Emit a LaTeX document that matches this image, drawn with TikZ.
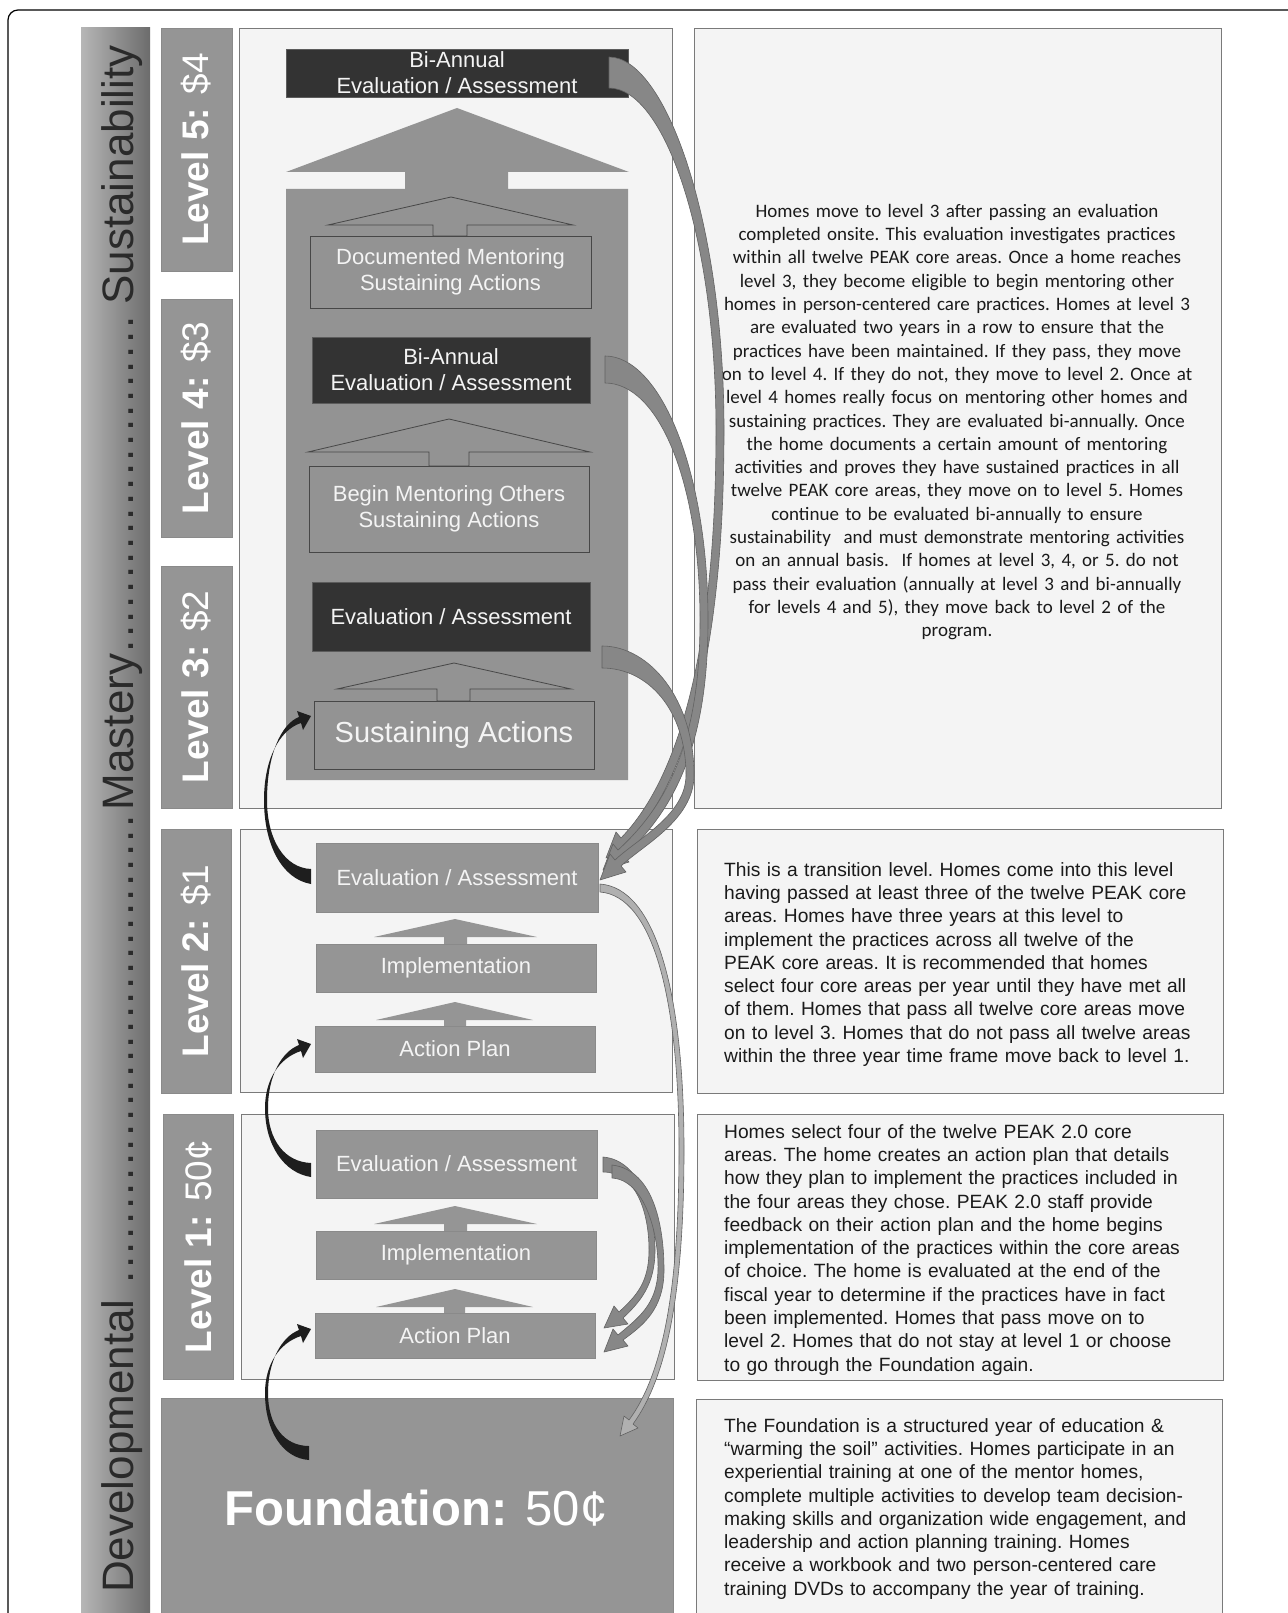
\documentclass[tikz,border=0pt]{standalone}
\usepackage{fontspec}
\setmainfont{Liberation Sans}
\newfontfamily\calfont{Carlito}
\usetikzlibrary{arrows.meta,calc,fit}
\definecolor{panelbg}{HTML}{F4F4F4}
\definecolor{panelbd}{HTML}{7A7A7A}
\definecolor{boxgray}{HTML}{959595}
\definecolor{colgray}{HTML}{939393}
\definecolor{boxbd}{HTML}{8A8A8A}
\definecolor{darkbox}{HTML}{333333}
\definecolor{darkbd}{HTML}{5C5C5C}
\definecolor{innerbd}{HTML}{474747}
\definecolor{ribbon}{HTML}{878787}
\definecolor{ribbonbd}{HTML}{626262}
\definecolor{hollowfill}{HTML}{B0B0B0}
\definecolor{swoosh}{HTML}{1E1E1E}
\definecolor{bodytext}{HTML}{1A1A1A}
\definecolor{boxtext}{HTML}{F4F4F4}
\definecolor{barL}{HTML}{B6B6B6}
\definecolor{barM}{HTML}{A0A0A0}
\definecolor{barR}{HTML}{6C6C6C}
\definecolor{bartext}{HTML}{2A2A2A}
\newcommand\bxfont{\fontsize{22}{26}\selectfont}
\newcommand\lbfont{\fontsize{37}{40}\selectfont}
\newcommand\arialbody{\fontsize{19.2}{23.3}\selectfont\frenchspacing\spaceskip=0.37em plus 0.1em minus 0.05em\relax}
\newcommand\calbody{\calfont\fontsize{19}{23.3}\selectfont\frenchspacing}
\newcommand\lvdots{\leaders\hbox to 14.7pt{\hss.\hss}\hfill}
\begin{document}
\begin{tikzpicture}[x=1pt,y=-1pt,
  panel/.style={draw=panelbd, fill=panelbg, line width=0.9pt, inner sep=0pt},
  lvl/.style={draw=boxbd, fill=boxgray, line width=0.8pt, inner sep=0pt},
  colbox/.style={draw=innerbd, fill=colgray, line width=0.8pt, inner sep=0pt},
  darkbx/.style={draw=darkbd, fill=darkbox, line width=0.8pt, inner sep=0pt},
  plainbx/.style={draw=boxbd, fill=boxgray, line width=0.8pt, inner sep=0pt},
  bxtxt/.style={inner sep=0pt, text=boxtext, align=center, font=\bxfont},
  colarrow/.style={draw=innerbd, fill=colgray, line width=0.8pt},
  smallarrow/.style={fill=boxgray},
  lbl/.style={rotate=90, text=white, font=\lbfont, inner sep=0pt},
  ribbonst/.style={fill=ribbon, draw=ribbonbd, line width=0.6pt, line join=round},
  hollowst/.style={fill=hollowfill, draw=ribbonbd, line width=0.6pt, line join=round},
  swooshst/.style={fill=swoosh},
  bodytxt/.style={inner sep=0pt, text=bodytext, anchor=north west, align=left, text width=495pt, font=\arialbody}
]
\useasboundingbox (0,0) rectangle (1287,1613);
\fill[white] (0,0) rectangle (1287,1613);
% outer frame
\draw[black, line width=1.2pt, rounded corners=10pt] (8,1620) -- (8,10) -- (1295,10);

% left gradient bar
\shade[left color=barL, middle color=barM, right color=barR] (81,28) rectangle (150,1620);
\node[rotate=90, anchor=base west, inner sep=0pt, text=bartext, font=\fontsize{44}{44}\selectfont] (stages) at (133,1593)
  {Developmental\hbox to 489pt{\ \lvdots}Mastery\hbox to 349pt{\lvdots}Sustainability};

% panels
\node[panel, fit={(239,28) (672,808)}] (p5) {};
\node[panel, fit={(240,829) (672,1092)}] (p2) {};
\node[panel, fit={(241,1114) (674,1379)}] (p1) {};
\node[panel, fit={(694,28) (1221,808)}] (tp5) {};
\node[panel, fit={(697,829) (1223,1093)}] (tp2) {};
\node[panel, fit={(697,1114) (1223,1380)}] (tp1) {};
\node[panel, fit={(696,1399) (1222,1625)}] (tp0) {};

% level labels
\node[lvl, fit={(161,28) (232,271)}] (L5) {};
\node[lvl, fit={(161,299) (232,537)}] (L4) {};
\node[lvl, fit={(161,566) (232,808)}] (L3) {};
\node[lvl, fit={(161,829) (231,1093)}] (L2) {};
\node[lvl, fit={(163,1114) (233,1379)}] (L1) {};
\node[lvl, fit={(161,1398) (673,1625)}] (fd) {};
\node[lbl] at (L5.center) {\bfseries Level 5: \mdseries\$4};
\node[lbl] at (L4.center) {\bfseries Level 4: \mdseries\$3};
\node[lbl] at (L3.center) {\bfseries Level 3: \mdseries\$2};
\node[lbl] at (L2.center) {\bfseries Level 2: \mdseries\$1};
\node[lbl] at (L1.center) {\bfseries Level 1: \mdseries 50¢};
\node[text=white, inner sep=0pt, anchor=base, font=\fontsize{49}{52}\selectfont] (fdtext) at (416,1525) {\bfseries Foundation: \mdseries 50¢};

% big column arrow
\fill[colgray] (286,780) -- (628,780) -- (628,189) -- (508,189) -- (508,172) -- (629,172) -- (457,108) -- (286,172) -- (405,172) -- (405,189) -- (286,189) -- cycle;

% column inner arrows
\draw[colarrow] (328,225) -- (451,197) -- (573,225) -- (467,225) -- (467,236) -- (433,236) -- (433,225) -- cycle;
\draw[colarrow] (308,452) -- (449,419) -- (590,452) -- (469,452) -- (469,466) -- (429,466) -- (429,452) -- cycle;
\draw[colarrow] (337,689) -- (454,663) -- (571,689) -- (470,689) -- (470,701) -- (437,701) -- (437,689) -- cycle;

% column boxes
\node[darkbx, fit={(286,49) (628,97)}] (ba5) {};
\node[colbox, fit={(310,236) (591,308)}] (dm) {};
\node[darkbx, fit={(312,337) (590,403)}] (ba4) {};
\node[colbox, fit={(309,466) (589,552)}] (bm) {};
\node[darkbx, fit={(312,582) (590,651)}] (ev3) {};
\node[colbox, fit={(314,701) (594,769)}] (sa) {};
\node[bxtxt] at (ba5.center) {Bi-Annual\\Evaluation / Assessment};
\node[bxtxt] at (dm.center) {Documented Mentoring\\Sustaining Actions};
\node[bxtxt] at (ba4.center) {Bi-Annual\\Evaluation / Assessment};
\node[bxtxt] at (bm.center) {Begin Mentoring Others\\Sustaining Actions};
\node[bxtxt] at (ev3.center) {Evaluation / Assessment};
\node[bxtxt, font=\fontsize{29}{32}\selectfont] at (sa.center) {Sustaining Actions};

% level 2
\fill[smallarrow] (374,937) -- (455,919) -- (537,937) -- (467,937) -- (467,945) -- (444,945) -- (444,937) -- cycle;
\fill[smallarrow] (376,1020) -- (455,1002) -- (533,1020) -- (466,1020) -- (466,1027) -- (444,1027) -- (444,1020) -- cycle;
\node[plainbx, fit={(316,843) (598,912)}] (ev2) {};
\node[plainbx, fit={(316,944) (596,992)}] (im2) {};
\node[plainbx, fit={(315,1026) (595,1072)}] (ap2) {};
\node[bxtxt] at (ev2.center) {Evaluation / Assessment};
\node[bxtxt] at (im2.center) {Implementation};
\node[bxtxt] at (ap2.center) {Action Plan};

% level 1
\fill[smallarrow] (374,1224) -- (455,1206) -- (537,1224) -- (467,1224) -- (467,1232) -- (444,1232) -- (444,1224) -- cycle;
\fill[smallarrow] (376,1307) -- (455,1289) -- (533,1307) -- (465,1307) -- (465,1314) -- (444,1314) -- (444,1307) -- cycle;
\node[plainbx, fit={(316,1130) (597,1198)}] (ev1) {};
\node[plainbx, fit={(316,1231) (596,1279)}] (im1) {};
\node[plainbx, fit={(315,1313) (595,1358)}] (ap1) {};
\node[bxtxt] at (ev1.center) {Evaluation / Assessment};
\node[bxtxt] at (im1.center) {Implementation};
\node[bxtxt] at (ap1.center) {Action Plan};

% text panels
\node[inner sep=0pt, anchor=north, text width=540pt, align=center, text=bodytext, font=\calbody] (txt5) at (957,204) {%
Homes move to level 3 after passing an evaluation\\
completed onsite. This evaluation investigates practices\\
within all twelve PEAK core areas. Once a home reaches\\
level 3, they become eligible to begin mentoring other\\
homes in person-centered care practices. Homes at level 3\\
are evaluated two years in a row to ensure that the\\
practices have been maintained. If they pass, they move\\
on to level 4. If they do not, they move to level 2. Once at\\
level 4 homes really focus on mentoring other homes and\\
sustaining practices. They are evaluated bi-annually. Once\\
the home documents a certain amount of mentoring\\
activities and proves they have sustained practices in all\\
twelve PEAK core areas, they move on to level 5. Homes\\
continue to be evaluated bi-annually to ensure\\
sustainability\ \ and must demonstrate mentoring activities\\
on an annual basis.\ \ If homes at level 3, 4, or 5. do not\\
pass their evaluation (annually at level 3 and bi-annually\\
for levels 4 and 5), they move back to level 2 of the\\
program.};
\node[bodytxt] (txt2) at (724,862) {%
This is a transition level. Homes come into this level\\
having passed at least three of the twelve PEAK core\\
areas. Homes have three years at this level to\\
implement the practices across all twelve of the\\
PEAK core areas. It is recommended that homes\\
select four core areas per year until they have met all\\
of them. Homes that pass all twelve core areas move\\
on to level 3. Homes that do not pass all twelve areas\\
within the three year time frame move back to level 1.};
\node[bodytxt] (txt1) at (724,1124) {%
Homes select four of the twelve PEAK 2.0 core\\
areas. The home creates an action plan that details\\
how they plan to implement the practices included in\\
the four areas they chose. PEAK 2.0 staff provide\\
feedback on their action plan and the home begins\\
implementation of the practices within the core areas\\
of choice. The home is evaluated at the end of the\\
fiscal year to determine if the practices have in fact\\
been implemented. Homes that pass move on to\\
level 2. Homes that do not stay at level 1 or choose\\
to go through the Foundation again.};
\node[bodytxt] (txt0) at (724,1418) {%
The Foundation is a structured year of education \&\\
“warming the soil” activities. Homes participate in an\\
experiential training at one of the mentor homes,\\
complete multiple activities to develop team decision-\\
making skills and organization wide engagement, and\\
leadership and action planning training. Homes\\
receive a workbook and two person-centered care\\
training DVDs to accompany the year of training.};

% black swooshes (advance to next level)
\fill[swooshst] (309,1460) .. controls (282,1458) and (265,1430) .. (265,1393) .. controls (265,1365) and (279,1343) .. (301,1336) -- (303,1343) -- (311,1329) -- (297,1324) -- (299,1330) .. controls (281,1337) and (268,1362) .. (268,1393) .. controls (268,1425) and (284,1446) .. (309,1446) -- cycle;
\fill[swooshst] (311,1177) .. controls (284,1173) and (265,1145) .. (265,1108) .. controls (265,1080) and (279,1058) .. (301,1051) -- (303,1058) -- (311,1044) -- (297,1039) -- (299,1045) .. controls (281,1052) and (268,1077) .. (268,1108) .. controls (268,1140) and (285,1162) .. (311,1163) -- cycle;
\fill[swooshst] (311,884) .. controls (282,879) and (264,845) .. (264,800) .. controls (264,760) and (279,730) .. (301,723) -- (303,730) -- (311,716) -- (297,711) -- (299,717) .. controls (281,724) and (267,755) .. (267,800) .. controls (267,840) and (285,868) .. (311,869) -- cycle;

% gray ribbons (fall back to level 2)
\path[ribbonst] (609,57) .. controls (665,57) and (724,220) .. (724,430) .. controls (724,640) and (690,780) .. (627,844) -- (632,850) -- (606,858) -- (616,832) -- (621,838) .. controls (682,775) and (716,640) .. (716,430) .. controls (716,235) and (664,88) .. (609,88) -- cycle;
\path[ribbonst] (605,356) .. controls (660,356) and (708,470) .. (708,620) .. controls (708,735) and (680,805) .. (624,856) -- (629,862) -- (603,870) -- (613,844) -- (618,850) .. controls (673,800) and (700,732) .. (700,620) .. controls (700,480) and (658,383) .. (605,383) -- cycle;
\path[ribbonst] (602,646) .. controls (650,646) and (694,700) .. (694,775) .. controls (694,820) and (643,845) .. (621,866) -- (626,872) -- (600,880) -- (610,854) -- (615,860) .. controls (637,839) and (686,815) .. (686,775) .. controls (686,710) and (648,668) .. (602,668) -- cycle;
% hollow arrow level 2 -> foundation
\path[hollowst] (600,884) .. controls (655,888) and (684,990) .. (684,1150) .. controls (684,1300) and (665,1380) .. (633,1424) -- (638,1428) -- (620,1436) -- (624,1416) -- (629,1420) .. controls (660,1378) and (679,1300) .. (679,1150) .. controls (679,995) and (652,896) .. (600,892) -- cycle;
% level 1 ribbons
\path[ribbonst] (603,1157) .. controls (640,1160) and (655,1210) .. (655,1250) .. controls (655,1285) and (640,1302) .. (623,1318) -- (628,1324) -- (604,1328) -- (614,1306) -- (619,1312) .. controls (636,1296) and (649,1283) .. (649,1250) .. controls (649,1212) and (636,1172) .. (603,1172) -- cycle;
\path[ribbonst] (612,1165) .. controls (655,1170) and (664,1230) .. (664,1270) .. controls (664,1310) and (642,1326) .. (623,1340) -- (628,1346) -- (604,1352) -- (613,1329) -- (618,1335) .. controls (638,1318) and (657,1305) .. (658,1270) .. controls (659,1235) and (645,1180) .. (612,1178) -- cycle;
\end{tikzpicture}
\end{document}
